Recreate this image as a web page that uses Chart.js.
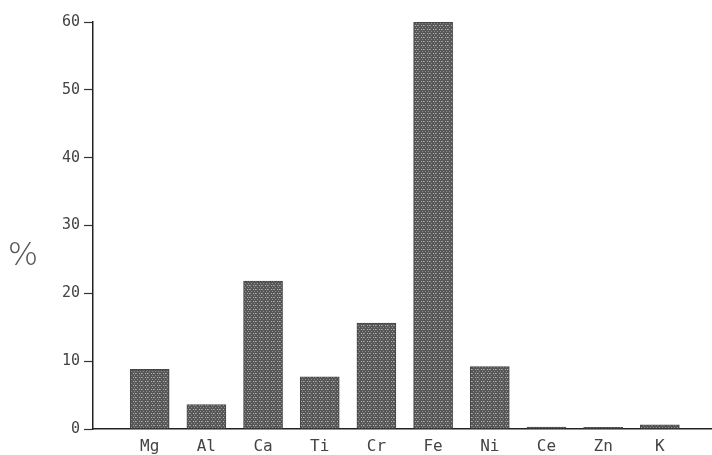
<!DOCTYPE html>
<html>
<head>
<meta charset="utf-8">
<script src="https://cdn.jsdelivr.net/npm/chart.js@4.4.1/dist/chart.umd.min.js"></script>
<style>
  html, body { margin: 0; padding: 0; background: #fff; }
  #wrap { width: 712px; height: 455px; }
</style>
</head>
<body>
<div id="wrap"><canvas id="chart"></canvas></div>
<script>
// Composition par élément (%)
const elements = ['Mg', 'Al', 'Ca', 'Ti', 'Cr', 'Fe', 'Ni', 'Ce', 'Zn', 'K'];
const percents = [8.8, 3.6, 21.8, 7.7, 15.6, 60, 9.2, 0.3, 0.25, 0.6];
const yTicks = [0, 10, 20, 30, 40, 50, 60];

// positions 1..n sur un axe linéaire, la position 0 reste vide
const points = percents.map((v, i) => ({ x: i + 1, y: v }));

// motif pointillé des barres (trame d'imprimante)
function makePattern() {
    const c = document.createElement('canvas');
    c.width = 6; c.height = 4;
    const g = c.getContext('2d');
    g.fillStyle = '#575757';
    g.fillRect(0, 0, 6, 4);
    g.fillStyle = '#b0b0b0';
    g.fillRect(1, 1, 1, 1);
    g.fillRect(3, 1, 1, 1);
    g.fillStyle = '#8f8f8f';
    g.fillRect(5, 3, 1, 1);
    g.fillRect(2, 3, 1, 1);
    g.fillRect(4, 1, 1, 1);
    return g.createPattern(c, 'repeat');
}

// le symbole % à gauche, non tourné
const percentLabel = {
    id: 'percentLabel',
    afterDraw(chart) {
        const ctx = chart.ctx;
        ctx.save();
        ctx.font = '300 32px "DejaVu Sans"';
        ctx.fillStyle = '#555';
        ctx.textAlign = 'center';
        ctx.textBaseline = 'middle';
        ctx.fillText('%', 23, 257);
        ctx.restore();
    }
};

const ctx = document.getElementById('chart').getContext('2d');
new Chart(ctx, {
    type: 'bar',
    data: {
        datasets: [{
            data: points,
            backgroundColor: makePattern(),
            borderColor: '#444',
            borderWidth: 1,
            barThickness: 39
        }]
    },
    options: {
        responsive: true,
        maintainAspectRatio: false,
        animation: false,
        layout: { padding: { top: 22, right: 0, left: 0, bottom: 0 } },
        plugins: { legend: { display: false }, tooltip: { enabled: false } },
        scales: {
            x: {
                type: 'linear',
                offset: false,
                min: 0,
                max: elements.length + 0.92,
                afterBuildTicks(scale) {
                    scale.ticks = elements.map((e, i) => ({ value: i + 1 }));
                },
                grid: { display: false },
                border: { display: true, color: '#222', width: 1.5 },
                ticks: {
                    color: '#444',
                    font: { family: '"DejaVu Sans Mono"', size: 16 },
                    padding: 0,
                    maxRotation: 0,
                    autoSkip: false,
                    callback: (v) => elements[v - 1] || ''
                },
                afterFit(scale) { scale.height = 26; }
            },
            y: {
                min: 0,
                max: 60,
                afterBuildTicks(scale) {
                    scale.ticks = yTicks.map(v => ({ value: v }));
                },
                grid: {
                    drawOnChartArea: false,
                    tickLength: 9,
                    tickColor: '#333',
                    tickWidth: 1.2
                },
                border: { display: true, color: '#222', width: 1.5 },
                ticks: {
                    color: '#444',
                    font: { family: '"DejaVu Sans Mono"', size: 15 },
                    padding: 4
                },
                afterFit(scale) { scale.width = 93; }
            }
        }
    },
    plugins: [percentLabel]
});
</script>
</body>
</html>
